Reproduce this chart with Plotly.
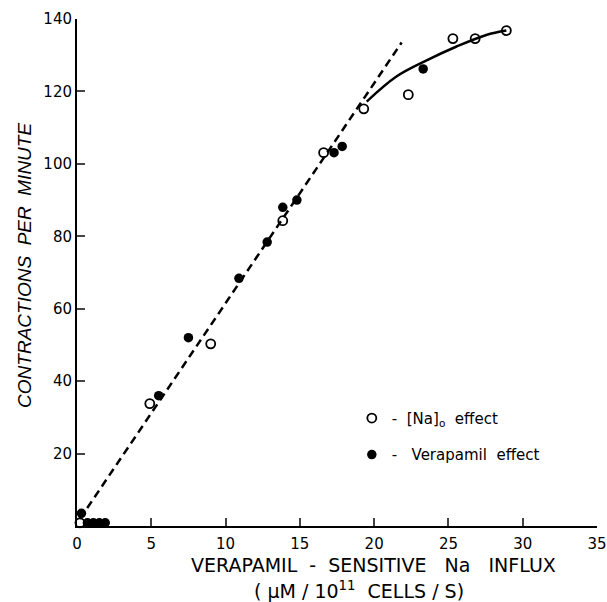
import plotly.graph_objects as go

# Open circles: [Na]o effect
na_x = [0.2, 4.9, 9.0, 13.85, 16.6, 19.3, 22.3, 25.3, 26.8, 28.9]
na_y = [0.9, 33.8, 50.3, 84.3, 103.1, 115.2, 119.1, 134.6, 134.6, 136.8]

# Filled circles: Verapamil effect
ver_x = [0.3, 0.7, 1.1, 1.5, 1.9, 5.5, 7.5, 10.9, 12.8, 13.85, 14.8, 17.3, 17.85, 23.3]
ver_y = [3.5, 0.9, 0.9, 0.9, 0.9, 36.0, 52.0, 68.4, 78.4, 88.0, 90.0, 103.1, 104.8, 126.2]

# Dashed linear fit
fit_x = [0.2, 21.85]
fit_y = [2.0, 133.5]

# Solid curve at saturation
curve_x = [19.5, 21.5, 23.5, 25.55, 27.55, 28.9]
curve_y = [117.2, 124.1, 128.5, 132.4, 135.6, 136.8]

x_ticks = [0, 5, 10, 15, 20, 25, 30, 35]
y_ticks = [20, 40, 60, 80, 100, 120, 140]

FONT = "DejaVu Sans"

fig = go.Figure()
fig.add_trace(go.Scatter(x=fit_x, y=fit_y, mode="lines",
                         line=dict(color="black", width=2.5, dash="8px,5px"),
                         showlegend=False, hoverinfo="skip"))
fig.add_trace(go.Scatter(x=curve_x, y=curve_y, mode="lines",
                         line=dict(color="black", width=2.5, shape="spline"),
                         showlegend=False, hoverinfo="skip"))
fig.add_trace(go.Scatter(x=na_x, y=na_y, mode="markers", name="-  [Na]<sub>o</sub>  effect",
                         legendgroup="a",
                         marker=dict(symbol="circle-open", size=9, color="black",
                                     line=dict(width=1.8, color="black")),
                         cliponaxis=False))
fig.add_trace(go.Scatter(x=ver_x, y=ver_y, mode="markers", name="-   Verapamil  effect",
                         legendgroup="b",
                         marker=dict(symbol="circle", size=9.5, color="black"),
                         cliponaxis=False))

fig.update_layout(
    width=607, height=602,
    margin=dict(l=77, r=10, t=19, b=76),
    paper_bgcolor="white", plot_bgcolor="white",
    font=dict(family=FONT, size=15, color="black"),
    showlegend=True,
    legend=dict(x=0.5285, y=0.245, xanchor="left", yanchor="top",
                traceorder="grouped", tracegroupgap=14,
                font=dict(family=FONT, size=15, color="black"),
                bgcolor="rgba(0,0,0,0)"),
    xaxis=dict(range=[0, 35], tickvals=x_ticks, ticks="inside", ticklen=8, tickwidth=1.5,
               showline=True, linecolor="black", linewidth=2, showgrid=False, zeroline=False,
               tickfont=dict(size=15), ticklabelstandoff=3, automargin=False),
    yaxis=dict(range=[0, 140], tickvals=y_ticks, ticks="inside", ticklen=8, tickwidth=1.5,
               showline=True, linecolor="black", linewidth=2, showgrid=False, zeroline=False,
               tickfont=dict(size=15), ticklabelstandoff=0, automargin=False),
    annotations=[
        dict(text="VERAPAMIL  -  SENSITIVE   Na   INFLUX", xref="paper", yref="paper",
             x=0.571, y=-0.076, showarrow=False, font=dict(size=19), xanchor="center", yanchor="middle"),
        dict(text="( μM / 10<sup>11</sup>  CELLS / S)", xref="paper", yref="paper",
             x=0.542, y=-0.127, showarrow=False, font=dict(size=19), xanchor="center", yanchor="middle"),
        dict(text="<i>CONTRACTIONS  PER  MINUTE</i>", xref="paper", yref="paper",
             x=-0.1, y=0.513, textangle=-90, showarrow=False,
             font=dict(family="Liberation Sans", size=19),
             xanchor="center", yanchor="middle"),
    ],
)

fig.write_html("out.html")
